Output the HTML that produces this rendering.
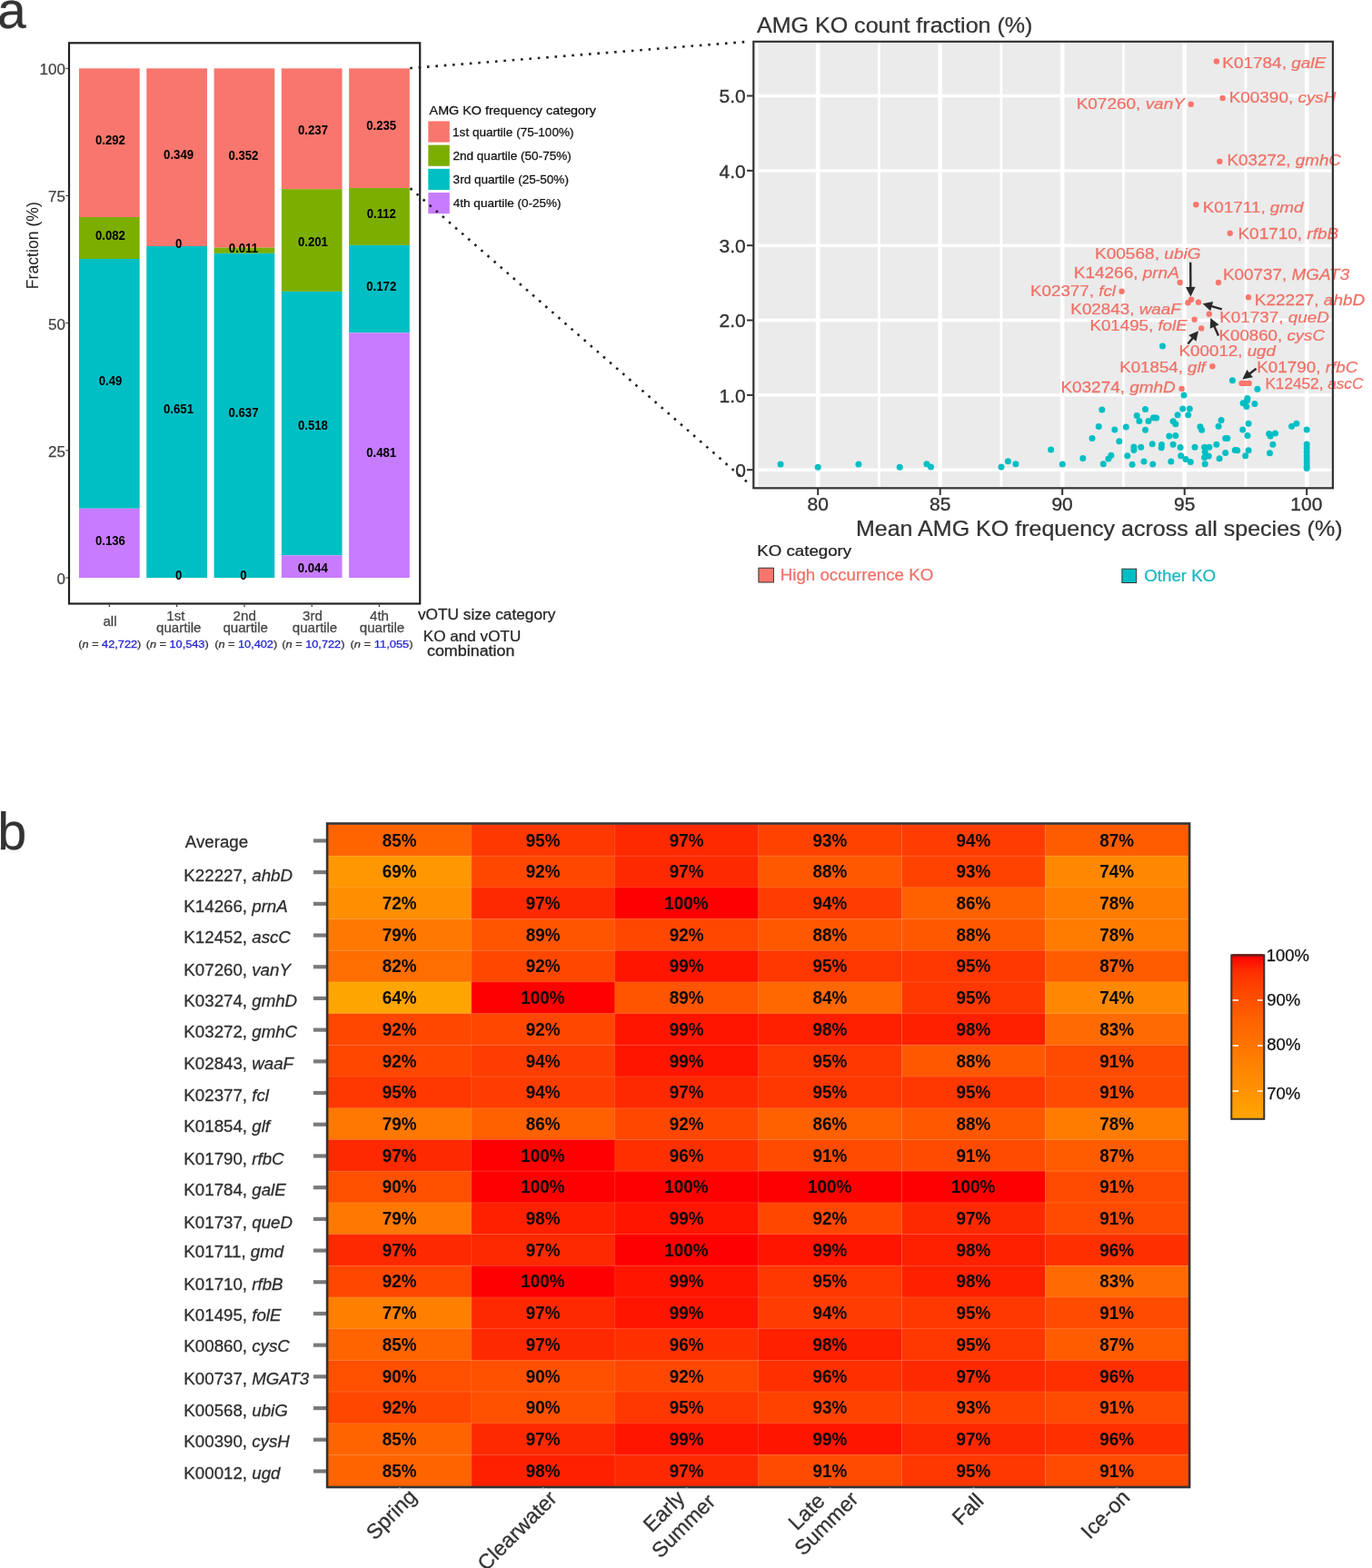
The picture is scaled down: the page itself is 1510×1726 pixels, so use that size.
<!DOCTYPE html>
<html><head><meta charset="utf-8"><title>Figure</title><style>html,body{margin:0;padding:0;background:#fff;overflow:hidden;}svg{display:block;}</style></head><body>
<svg width="1510" height="1726" viewBox="0 0 1510 1726" font-family="'Liberation Sans', Arial, Helvetica, sans-serif">
<rect x="0" y="0" width="1510" height="1726" fill="#fff"/>
<text transform="translate(-3.02,31.20)" font-size="57" fill="#333" stroke="#333" stroke-width="0.25">a</text>
<text transform="translate(-2.74,935.20)" font-size="57.5" fill="#333" stroke="#333" stroke-width="0.25">b</text>
<rect x="87.00" y="75.30" width="66.7" height="163.72" fill="#F8766D"/>
<rect x="87.00" y="239.02" width="66.7" height="45.98" fill="#7CAE00"/>
<rect x="87.00" y="285.00" width="66.7" height="274.74" fill="#00BFC4"/>
<rect x="87.00" y="559.74" width="66.7" height="76.26" fill="#C77CFF"/>
<rect x="161.28" y="75.30" width="66.7" height="195.68" fill="#F8766D"/>
<rect x="161.28" y="270.98" width="66.7" height="365.02" fill="#00BFC4"/>
<rect x="235.56" y="75.30" width="66.7" height="197.37" fill="#F8766D"/>
<rect x="235.56" y="272.67" width="66.7" height="6.17" fill="#7CAE00"/>
<rect x="235.56" y="278.83" width="66.7" height="357.17" fill="#00BFC4"/>
<rect x="309.84" y="75.30" width="66.7" height="132.89" fill="#F8766D"/>
<rect x="309.84" y="208.19" width="66.7" height="112.70" fill="#7CAE00"/>
<rect x="309.84" y="320.89" width="66.7" height="290.44" fill="#00BFC4"/>
<rect x="309.84" y="611.33" width="66.7" height="24.67" fill="#C77CFF"/>
<rect x="384.12" y="75.30" width="66.7" height="131.76" fill="#F8766D"/>
<rect x="384.12" y="207.06" width="66.7" height="62.80" fill="#7CAE00"/>
<rect x="384.12" y="269.86" width="66.7" height="96.44" fill="#00BFC4"/>
<rect x="384.12" y="366.30" width="66.7" height="269.70" fill="#C77CFF"/>
<text transform="translate(104.99,159.11) scale(0.9550,1)" font-size="13.8" font-weight="bold" fill="#000">0.292</text>
<text transform="translate(104.99,263.96) scale(0.9550,1)" font-size="13.8" font-weight="bold" fill="#000">0.082</text>
<text transform="translate(108.65,424.32) scale(0.9550,1)" font-size="13.8" font-weight="bold" fill="#000">0.49</text>
<text transform="translate(104.98,599.82) scale(0.9550,1)" font-size="13.8" font-weight="bold" fill="#000">0.136</text>
<text transform="translate(180.08,175.09) scale(0.9550,1)" font-size="13.8" font-weight="bold" fill="#000">0.349</text>
<text transform="translate(192.94,272.93) scale(0.9550,1)" font-size="13.8" font-weight="bold" fill="#000">0</text>
<text transform="translate(180.03,455.44) scale(0.9550,1)" font-size="13.8" font-weight="bold" fill="#000">0.651</text>
<text transform="translate(192.94,637.95) scale(0.9550,1)" font-size="13.8" font-weight="bold" fill="#000">0</text>
<text transform="translate(251.49,175.93) scale(0.9550,1)" font-size="13.8" font-weight="bold" fill="#000">0.352</text>
<text transform="translate(251.81,277.70) scale(0.9550,1)" font-size="13.8" font-weight="bold" fill="#000">0.011</text>
<text transform="translate(251.53,459.37) scale(0.9550,1)" font-size="13.8" font-weight="bold" fill="#000">0.637</text>
<text transform="translate(264.34,637.95) scale(0.9550,1)" font-size="13.8" font-weight="bold" fill="#000">0</text>
<text transform="translate(328.03,148.39) scale(0.9550,1)" font-size="13.8" font-weight="bold" fill="#000">0.237</text>
<text transform="translate(327.93,271.19) scale(0.9550,1)" font-size="13.8" font-weight="bold" fill="#000">0.201</text>
<text transform="translate(327.94,472.76) scale(0.9550,1)" font-size="13.8" font-weight="bold" fill="#000">0.518</text>
<text transform="translate(327.78,630.31) scale(0.9550,1)" font-size="13.8" font-weight="bold" fill="#000">0.044</text>
<text transform="translate(403.23,143.13) scale(0.9550,1)" font-size="13.8" font-weight="bold" fill="#000">0.235</text>
<text transform="translate(403.67,240.41) scale(0.9550,1)" font-size="13.8" font-weight="bold" fill="#000">0.112</text>
<text transform="translate(403.29,320.03) scale(0.9550,1)" font-size="13.8" font-weight="bold" fill="#000">0.172</text>
<text transform="translate(403.23,503.10) scale(0.9550,1)" font-size="13.8" font-weight="bold" fill="#000">0.481</text>
<rect x="76" y="47.3" width="386.2" height="617.2" fill="none" stroke="#222" stroke-width="2.2"/>
<line x1="72.3" y1="75.30" x2="75" y2="75.30" stroke="#333" stroke-width="1"/>
<text transform="translate(43.59,82.20)" font-size="17" fill="#444" stroke="#444" stroke-width="0.25">100</text>
<line x1="72.3" y1="215.47" x2="75" y2="215.47" stroke="#333" stroke-width="1"/>
<text transform="translate(53.11,222.37)" font-size="17" fill="#444" stroke="#444" stroke-width="0.25">75</text>
<line x1="72.3" y1="355.65" x2="75" y2="355.65" stroke="#333" stroke-width="1"/>
<text transform="translate(53.07,362.55)" font-size="17" fill="#444" stroke="#444" stroke-width="0.25">50</text>
<line x1="72.3" y1="495.82" x2="75" y2="495.82" stroke="#333" stroke-width="1"/>
<text transform="translate(53.11,502.72)" font-size="17" fill="#444" stroke="#444" stroke-width="0.25">25</text>
<line x1="72.3" y1="636.00" x2="75" y2="636.00" stroke="#333" stroke-width="1"/>
<text transform="translate(62.50,642.90)" font-size="17" fill="#444" stroke="#444" stroke-width="0.25">0</text>
<text transform="translate(41.9,318.2) rotate(-90)" font-size="17.65" fill="#222">Fraction (%)</text>
<line x1="120.35" y1="665.5" x2="120.35" y2="668" stroke="#333" stroke-width="1.2"/>
<line x1="194.63" y1="665.5" x2="194.63" y2="668" stroke="#333" stroke-width="1.2"/>
<line x1="268.91" y1="665.5" x2="268.91" y2="668" stroke="#333" stroke-width="1.2"/>
<line x1="343.19" y1="665.5" x2="343.19" y2="668" stroke="#333" stroke-width="1.2"/>
<line x1="417.47" y1="665.5" x2="417.47" y2="668" stroke="#333" stroke-width="1.2"/>
<text transform="translate(113.45,688.60) scale(1.0400,1)" font-size="14.5" fill="#444" stroke="#444" stroke-width="0.25">all</text>
<text transform="translate(183.34,682.50) scale(1.0400,1)" font-size="14.5" fill="#444" stroke="#444" stroke-width="0.25">1st</text>
<text transform="translate(172.07,696.30) scale(1.0400,1)" font-size="14.5" fill="#444" stroke="#444" stroke-width="0.25">quartile</text>
<text transform="translate(256.62,682.50) scale(1.0400,1)" font-size="14.5" fill="#444" stroke="#444" stroke-width="0.25">2nd</text>
<text transform="translate(245.47,696.30) scale(1.0400,1)" font-size="14.5" fill="#444" stroke="#444" stroke-width="0.25">quartile</text>
<text transform="translate(333.09,682.50) scale(1.0400,1)" font-size="14.5" fill="#444" stroke="#444" stroke-width="0.25">3rd</text>
<text transform="translate(321.77,696.30) scale(1.0400,1)" font-size="14.5" fill="#444" stroke="#444" stroke-width="0.25">quartile</text>
<text transform="translate(407.02,682.50) scale(1.0400,1)" font-size="14.5" fill="#444" stroke="#444" stroke-width="0.25">4th</text>
<text transform="translate(395.77,696.30) scale(1.0400,1)" font-size="14.5" fill="#444" stroke="#444" stroke-width="0.25">quartile</text>
<text transform="translate(86.25,713.20) scale(1.1276,1)" font-size="11.3" fill="#333" stroke="#333" stroke-width="0.25">(<tspan font-style="italic">n</tspan> = <tspan fill="#1c1cd0" stroke="#1c1cd0">42,722</tspan>)</text>
<text transform="translate(160.65,713.20) scale(1.1276,1)" font-size="11.3" fill="#333" stroke="#333" stroke-width="0.25">(<tspan font-style="italic">n</tspan> = <tspan fill="#1c1cd0" stroke="#1c1cd0">10,543</tspan>)</text>
<text transform="translate(236.15,713.20) scale(1.1276,1)" font-size="11.3" fill="#333" stroke="#333" stroke-width="0.25">(<tspan font-style="italic">n</tspan> = <tspan fill="#1c1cd0" stroke="#1c1cd0">10,402</tspan>)</text>
<text transform="translate(310.35,713.20) scale(1.1276,1)" font-size="11.3" fill="#333" stroke="#333" stroke-width="0.25">(<tspan font-style="italic">n</tspan> = <tspan fill="#1c1cd0" stroke="#1c1cd0">10,722</tspan>)</text>
<text transform="translate(385.54,713.20) scale(1.1438,1)" font-size="11.3" fill="#333" stroke="#333" stroke-width="0.25">(<tspan font-style="italic">n</tspan> = <tspan fill="#1c1cd0" stroke="#1c1cd0">11,055</tspan>)</text>
<text transform="translate(459.96,681.50) scale(1.0457,1)" font-size="16.5" fill="#262626" stroke="#262626" stroke-width="0.25">vOTU size category</text>
<text transform="translate(465.79,705.80) scale(1.0838,1)" font-size="15.8" fill="#262626" stroke="#262626" stroke-width="0.25">KO and vOTU</text>
<text transform="translate(469.94,721.50) scale(1.1341,1)" font-size="15.8" fill="#262626" stroke="#262626" stroke-width="0.25">combination</text>
<text transform="translate(472.56,126.20) scale(1.0886,1)" font-size="13.2" fill="#111" stroke="#111" stroke-width="0.25">AMG KO frequency category</text>
<rect x="471.3" y="133.40" width="23.5" height="23.2" fill="#F8766D"/>
<text transform="translate(498.08,149.60) scale(1.0283,1)" font-size="13.2" fill="#111" stroke="#111" stroke-width="0.25">1st quartile (75-100%)</text>
<rect x="471.3" y="159.60" width="23.5" height="23.2" fill="#7CAE00"/>
<text transform="translate(498.42,175.80) scale(1.0279,1)" font-size="13.2" fill="#111" stroke="#111" stroke-width="0.25">2nd quartile (50-75%)</text>
<rect x="471.3" y="185.80" width="23.5" height="23.2" fill="#00BFC4"/>
<text transform="translate(498.59,202.00) scale(1.0278,1)" font-size="13.2" fill="#111" stroke="#111" stroke-width="0.25">3rd quartile (25-50%)</text>
<rect x="471.3" y="212.00" width="23.5" height="23.2" fill="#C77CFF"/>
<text transform="translate(498.80,228.20) scale(1.0249,1)" font-size="13.2" fill="#111" stroke="#111" stroke-width="0.25">4th quartile (0-25%)</text>
<line x1="451.2" y1="75.06" x2="822.5" y2="45.9" stroke="#222" stroke-width="2.6" stroke-dasharray="2.6 6.8"/>
<line x1="451.5" y1="207.2" x2="824" y2="532.1" stroke="#222" stroke-width="2.6" stroke-dasharray="2.6 6.8"/>
<rect x="830.4" y="46.9" width="635.40" height="489.30" fill="#EBEBEB"/>
<clipPath id="pc"><rect x="830.4" y="46.9" width="635.40" height="489.30"/></clipPath>
<g clip-path="url(#pc)">
<line x1="832.95" y1="46.9" x2="832.95" y2="536.2" stroke="#fff" stroke-width="2.8"/>
<line x1="967.45" y1="46.9" x2="967.45" y2="536.2" stroke="#fff" stroke-width="2.8"/>
<line x1="1101.95" y1="46.9" x2="1101.95" y2="536.2" stroke="#fff" stroke-width="2.8"/>
<line x1="1236.45" y1="46.9" x2="1236.45" y2="536.2" stroke="#fff" stroke-width="2.8"/>
<line x1="1370.95" y1="46.9" x2="1370.95" y2="536.2" stroke="#fff" stroke-width="2.8"/>
<line x1="900.20" y1="46.9" x2="900.20" y2="536.2" stroke="#fff" stroke-width="4.6"/>
<line x1="1034.70" y1="46.9" x2="1034.70" y2="536.2" stroke="#fff" stroke-width="4.6"/>
<line x1="1169.20" y1="46.9" x2="1169.20" y2="536.2" stroke="#fff" stroke-width="4.6"/>
<line x1="1303.70" y1="46.9" x2="1303.70" y2="536.2" stroke="#fff" stroke-width="4.6"/>
<line x1="1438.20" y1="46.9" x2="1438.20" y2="536.2" stroke="#fff" stroke-width="4.6"/>
<line x1="830.4" y1="517.20" x2="1465.8" y2="517.20" stroke="#fff" stroke-width="3.4"/>
<line x1="830.4" y1="434.86" x2="1465.8" y2="434.86" stroke="#fff" stroke-width="3.4"/>
<line x1="830.4" y1="352.52" x2="1465.8" y2="352.52" stroke="#fff" stroke-width="3.4"/>
<line x1="830.4" y1="270.18" x2="1465.8" y2="270.18" stroke="#fff" stroke-width="3.4"/>
<line x1="830.4" y1="187.84" x2="1465.8" y2="187.84" stroke="#fff" stroke-width="3.4"/>
<line x1="830.4" y1="105.50" x2="1465.8" y2="105.50" stroke="#fff" stroke-width="3.4"/>
</g>
<circle cx="859.1" cy="510.9" r="3.5" fill="#00BFC4"/>
<circle cx="900.2" cy="514.2" r="3.5" fill="#00BFC4"/>
<circle cx="944.9" cy="510.9" r="3.5" fill="#00BFC4"/>
<circle cx="990.2" cy="514.2" r="3.5" fill="#00BFC4"/>
<circle cx="1019.9" cy="510.7" r="3.5" fill="#00BFC4"/>
<circle cx="1024.5" cy="514" r="3.5" fill="#00BFC4"/>
<circle cx="1102" cy="514" r="3.5" fill="#00BFC4"/>
<circle cx="1109.4" cy="507.7" r="3.5" fill="#00BFC4"/>
<circle cx="1117.9" cy="510.7" r="3.5" fill="#00BFC4"/>
<circle cx="1156.6" cy="495.1" r="3.5" fill="#00BFC4"/>
<circle cx="1169.3" cy="511" r="3.5" fill="#00BFC4"/>
<circle cx="1191.8" cy="504.6" r="3.5" fill="#00BFC4"/>
<circle cx="1212.8" cy="450.9" r="3.5" fill="#00BFC4"/>
<circle cx="1209.2" cy="469.6" r="3.5" fill="#00BFC4"/>
<circle cx="1226.8" cy="472.9" r="3.5" fill="#00BFC4"/>
<circle cx="1239.3" cy="469.9" r="3.5" fill="#00BFC4"/>
<circle cx="1202" cy="482.4" r="3.5" fill="#00BFC4"/>
<circle cx="1231.8" cy="485.7" r="3.5" fill="#00BFC4"/>
<circle cx="1260.5" cy="450.6" r="3.5" fill="#00BFC4"/>
<circle cx="1251.2" cy="457.4" r="3.5" fill="#00BFC4"/>
<circle cx="1253.9" cy="463.4" r="3.5" fill="#00BFC4"/>
<circle cx="1264" cy="463.4" r="3.5" fill="#00BFC4"/>
<circle cx="1260.5" cy="473.2" r="3.5" fill="#00BFC4"/>
<circle cx="1269.4" cy="459.8" r="3.5" fill="#00BFC4"/>
<circle cx="1247.9" cy="492" r="3.5" fill="#00BFC4"/>
<circle cx="1247.9" cy="495.6" r="3.5" fill="#00BFC4"/>
<circle cx="1255.7" cy="492.3" r="3.5" fill="#00BFC4"/>
<circle cx="1268.2" cy="488.7" r="3.5" fill="#00BFC4"/>
<circle cx="1240.8" cy="501.8" r="3.5" fill="#00BFC4"/>
<circle cx="1222.9" cy="501.2" r="3.5" fill="#00BFC4"/>
<circle cx="1219.9" cy="505.1" r="3.5" fill="#00BFC4"/>
<circle cx="1214.3" cy="510.8" r="3.5" fill="#00BFC4"/>
<circle cx="1246.1" cy="511.3" r="3.5" fill="#00BFC4"/>
<circle cx="1259" cy="508.1" r="3.5" fill="#00BFC4"/>
<circle cx="1268.8" cy="511" r="3.5" fill="#00BFC4"/>
<circle cx="1303" cy="434.9" r="3.5" fill="#00BFC4"/>
<circle cx="1301.7" cy="450.1" r="3.5" fill="#00BFC4"/>
<circle cx="1309.3" cy="450.1" r="3.5" fill="#00BFC4"/>
<circle cx="1296.1" cy="456.8" r="3.5" fill="#00BFC4"/>
<circle cx="1307.7" cy="456.8" r="3.5" fill="#00BFC4"/>
<circle cx="1272.6" cy="460.1" r="3.5" fill="#00BFC4"/>
<circle cx="1291.1" cy="463.7" r="3.5" fill="#00BFC4"/>
<circle cx="1293.8" cy="466.7" r="3.5" fill="#00BFC4"/>
<circle cx="1344.1" cy="462.4" r="3.5" fill="#00BFC4"/>
<circle cx="1341.1" cy="469.3" r="3.5" fill="#00BFC4"/>
<circle cx="1320.9" cy="469.7" r="3.5" fill="#00BFC4"/>
<circle cx="1322.6" cy="473.3" r="3.5" fill="#00BFC4"/>
<circle cx="1286.8" cy="479.9" r="3.5" fill="#00BFC4"/>
<circle cx="1293.8" cy="479.6" r="3.5" fill="#00BFC4"/>
<circle cx="1348.7" cy="482.6" r="3.5" fill="#00BFC4"/>
<circle cx="1278.5" cy="489.5" r="3.5" fill="#00BFC4"/>
<circle cx="1278.2" cy="492.8" r="3.5" fill="#00BFC4"/>
<circle cx="1291.1" cy="489.2" r="3.5" fill="#00BFC4"/>
<circle cx="1299.1" cy="492.5" r="3.5" fill="#00BFC4"/>
<circle cx="1315" cy="492.2" r="3.5" fill="#00BFC4"/>
<circle cx="1325.6" cy="492.2" r="3.5" fill="#00BFC4"/>
<circle cx="1330.9" cy="492.2" r="3.5" fill="#00BFC4"/>
<circle cx="1338.8" cy="489.2" r="3.5" fill="#00BFC4"/>
<circle cx="1326.2" cy="497.5" r="3.5" fill="#00BFC4"/>
<circle cx="1330.2" cy="502.1" r="3.5" fill="#00BFC4"/>
<circle cx="1325.6" cy="503.4" r="3.5" fill="#00BFC4"/>
<circle cx="1348.7" cy="498.5" r="3.5" fill="#00BFC4"/>
<circle cx="1342.1" cy="504.8" r="3.5" fill="#00BFC4"/>
<circle cx="1359.3" cy="495.5" r="3.5" fill="#00BFC4"/>
<circle cx="1299.7" cy="501.8" r="3.5" fill="#00BFC4"/>
<circle cx="1305" cy="505.4" r="3.5" fill="#00BFC4"/>
<circle cx="1310.3" cy="508.4" r="3.5" fill="#00BFC4"/>
<circle cx="1288.8" cy="508.1" r="3.5" fill="#00BFC4"/>
<circle cx="1326.2" cy="510.7" r="3.5" fill="#00BFC4"/>
<circle cx="1356.4" cy="418.8" r="3.5" fill="#00BFC4"/>
<circle cx="1383.9" cy="428.3" r="3.5" fill="#00BFC4"/>
<circle cx="1368.1" cy="443.7" r="3.5" fill="#00BFC4"/>
<circle cx="1372.6" cy="440.7" r="3.5" fill="#00BFC4"/>
<circle cx="1371.9" cy="447.5" r="3.5" fill="#00BFC4"/>
<circle cx="1380.9" cy="444.5" r="3.5" fill="#00BFC4"/>
<circle cx="1374.1" cy="466.3" r="3.5" fill="#00BFC4"/>
<circle cx="1367.7" cy="473.1" r="3.5" fill="#00BFC4"/>
<circle cx="1373" cy="479.5" r="3.5" fill="#00BFC4"/>
<circle cx="1350.8" cy="482.5" r="3.5" fill="#00BFC4"/>
<circle cx="1396.7" cy="477.6" r="3.5" fill="#00BFC4"/>
<circle cx="1403.5" cy="476.9" r="3.5" fill="#00BFC4"/>
<circle cx="1398.2" cy="479.9" r="3.5" fill="#00BFC4"/>
<circle cx="1400.9" cy="489.3" r="3.5" fill="#00BFC4"/>
<circle cx="1397.5" cy="498.7" r="3.5" fill="#00BFC4"/>
<circle cx="1421.6" cy="469.3" r="3.5" fill="#00BFC4"/>
<circle cx="1426.9" cy="466.3" r="3.5" fill="#00BFC4"/>
<circle cx="1438.2" cy="473.1" r="3.5" fill="#00BFC4"/>
<circle cx="1361.7" cy="495.7" r="3.5" fill="#00BFC4"/>
<circle cx="1374.1" cy="495.7" r="3.5" fill="#00BFC4"/>
<circle cx="1370.7" cy="501.7" r="3.5" fill="#00BFC4"/>
<circle cx="1279.5" cy="380.9" r="3.5" fill="#00BFC4"/>
<circle cx="1372.9" cy="438.5" r="3.5" fill="#00BFC4"/>
<circle cx="1438.2" cy="489" r="3.5" fill="#00BFC4"/>
<circle cx="1438.2" cy="493" r="3.5" fill="#00BFC4"/>
<circle cx="1438.2" cy="497" r="3.5" fill="#00BFC4"/>
<circle cx="1438.2" cy="501" r="3.5" fill="#00BFC4"/>
<circle cx="1438.2" cy="505" r="3.5" fill="#00BFC4"/>
<circle cx="1438.2" cy="509" r="3.5" fill="#00BFC4"/>
<circle cx="1438.2" cy="513" r="3.5" fill="#00BFC4"/>
<circle cx="1438.2" cy="515.5" r="3.5" fill="#00BFC4"/>
<circle cx="1338.9" cy="67.5" r="3.2" fill="#F8766D"/>
<circle cx="1345.6" cy="108" r="3.2" fill="#F8766D"/>
<circle cx="1310.7" cy="114.8" r="3.2" fill="#F8766D"/>
<circle cx="1342.3" cy="177.8" r="3.2" fill="#F8766D"/>
<circle cx="1316.3" cy="225.3" r="3.2" fill="#F8766D"/>
<circle cx="1353.7" cy="256.8" r="3.2" fill="#F8766D"/>
<circle cx="1298.7" cy="311" r="3.2" fill="#F8766D"/>
<circle cx="1341" cy="311" r="3.2" fill="#F8766D"/>
<circle cx="1234.6" cy="320.7" r="3.2" fill="#F8766D"/>
<circle cx="1374" cy="327.2" r="3.2" fill="#F8766D"/>
<circle cx="1307.4" cy="333.3" r="3.2" fill="#F8766D"/>
<circle cx="1311.1" cy="329.8" r="3.2" fill="#F8766D"/>
<circle cx="1319" cy="332.7" r="3.2" fill="#F8766D"/>
<circle cx="1330.8" cy="345.8" r="3.2" fill="#F8766D"/>
<circle cx="1314.6" cy="351.8" r="3.2" fill="#F8766D"/>
<circle cx="1322.2" cy="361.4" r="3.2" fill="#F8766D"/>
<circle cx="1334.4" cy="403.3" r="3.2" fill="#F8766D"/>
<circle cx="1300.6" cy="427.9" r="3.2" fill="#F8766D"/>
<circle cx="1366.6" cy="421.9" r="3.2" fill="#F8766D"/>
<circle cx="1370.3" cy="421.9" r="3.2" fill="#F8766D"/>
<circle cx="1374.7" cy="421.9" r="3.2" fill="#F8766D"/>
<text transform="translate(1345.23,74.90) scale(1.1035,1)" font-size="17.2" fill="#F07167" stroke="#F07167" stroke-width="0.25">K01784, <tspan font-style="italic">galE</tspan></text>
<text transform="translate(1352.64,112.50) scale(1.1017,1)" font-size="17.2" fill="#F07167" stroke="#F07167" stroke-width="0.25">K00390, <tspan font-style="italic">cysH</tspan></text>
<text transform="translate(1184.63,119.90) scale(1.1043,1)" font-size="17.2" fill="#F07167" stroke="#F07167" stroke-width="0.25">K07260, <tspan font-style="italic">vanY</tspan></text>
<text transform="translate(1350.45,182.30) scale(1.0949,1)" font-size="17.2" fill="#F07167" stroke="#F07167" stroke-width="0.25">K03272, <tspan font-style="italic">gmhC</tspan></text>
<text transform="translate(1323.74,233.60) scale(1.0973,1)" font-size="17.2" fill="#F07167" stroke="#F07167" stroke-width="0.25">K01711, <tspan font-style="italic">gmd</tspan></text>
<text transform="translate(1362.44,263.30) scale(1.1028,1)" font-size="17.2" fill="#F07167" stroke="#F07167" stroke-width="0.25">K01710, <tspan font-style="italic">rfbB</tspan></text>
<text transform="translate(1204.92,284.70) scale(1.1104,1)" font-size="17.2" fill="#F07167" stroke="#F07167" stroke-width="0.25">K00568, <tspan font-style="italic">ubiG</tspan></text>
<text transform="translate(1181.73,306.40) scale(1.1045,1)" font-size="17.2" fill="#F07167" stroke="#F07167" stroke-width="0.25">K14266, <tspan font-style="italic">prnA</tspan></text>
<text transform="translate(1346.04,308.40) scale(1.0969,1)" font-size="17.2" fill="#F07167" stroke="#F07167" stroke-width="0.25">K00737, <tspan font-style="italic">MGAT3</tspan></text>
<text transform="translate(1133.95,326.00) scale(1.0934,1)" font-size="17.2" fill="#F07167" stroke="#F07167" stroke-width="0.25">K02377, <tspan font-style="italic">fcl</tspan></text>
<text transform="translate(1380.83,335.50) scale(1.1045,1)" font-size="17.2" fill="#F07167" stroke="#F07167" stroke-width="0.25">K22227, <tspan font-style="italic">ahbD</tspan></text>
<text transform="translate(1178.35,346.10) scale(1.0952,1)" font-size="17.2" fill="#F07167" stroke="#F07167" stroke-width="0.25">K02843, <tspan font-style="italic">waaF</tspan></text>
<text transform="translate(1342.14,355.30) scale(1.0980,1)" font-size="17.2" fill="#F07167" stroke="#F07167" stroke-width="0.25">K01737, <tspan font-style="italic">queD</tspan></text>
<text transform="translate(1199.45,364.40) scale(1.0898,1)" font-size="17.2" fill="#F07167" stroke="#F07167" stroke-width="0.25">K01495, <tspan font-style="italic">folE</tspan></text>
<text transform="translate(1341.56,374.80) scale(1.0876,1)" font-size="17.2" fill="#F07167" stroke="#F07167" stroke-width="0.25">K00860, <tspan font-style="italic">cysC</tspan></text>
<text transform="translate(1297.55,392.10) scale(1.0913,1)" font-size="17.2" fill="#F07167" stroke="#F07167" stroke-width="0.25">K00012, <tspan font-style="italic">ugd</tspan></text>
<text transform="translate(1232.26,409.80) scale(1.0870,1)" font-size="17.2" fill="#F07167" stroke="#F07167" stroke-width="0.25">K01854, <tspan font-style="italic">glf</tspan></text>
<text transform="translate(1383.24,409.90) scale(1.0968,1)" font-size="17.2" fill="#F07167" stroke="#F07167" stroke-width="0.25">K01790, <tspan font-style="italic">rfbC</tspan></text>
<text transform="translate(1167.44,432.10) scale(1.1012,1)" font-size="17.2" fill="#F07167" stroke="#F07167" stroke-width="0.25">K03274, <tspan font-style="italic">gmhD</tspan></text>
<text transform="translate(1392.38,427.80)" font-size="17.2" fill="#F07167" stroke="#F07167" stroke-width="0.25">K12452, <tspan font-style="italic">ascC</tspan></text>
<line x1="1310.20" y1="288.70" x2="1310.35" y2="316.90" stroke="#2a2a2a" stroke-width="2.4"/>
<polygon points="1310.40,326.40 1305.04,315.93 1315.64,315.87" fill="#2a2a2a"/>
<line x1="1344.80" y1="340.30" x2="1332.73" y2="336.83" stroke="#2a2a2a" stroke-width="2.4"/>
<polygon points="1323.60,334.20 1335.16,332.01 1332.23,342.20" fill="#2a2a2a"/>
<line x1="1341.00" y1="369.50" x2="1336.19" y2="358.77" stroke="#2a2a2a" stroke-width="2.4"/>
<polygon points="1332.30,350.10 1341.43,357.51 1331.76,361.85" fill="#2a2a2a"/>
<line x1="1307.40" y1="378.50" x2="1312.99" y2="371.66" stroke="#2a2a2a" stroke-width="2.4"/>
<polygon points="1319.00,364.30 1316.46,375.78 1308.25,369.08" fill="#2a2a2a"/>
<line x1="1382.60" y1="405.70" x2="1374.88" y2="411.74" stroke="#2a2a2a" stroke-width="2.4"/>
<polygon points="1367.40,417.60 1372.40,406.95 1378.93,415.30" fill="#2a2a2a"/>
<rect x="829.30" y="45.80" width="637.60" height="491.50" fill="none" stroke="#333" stroke-width="2.2"/>
<line x1="822" y1="105.50" x2="829" y2="105.50" stroke="#333" stroke-width="2"/>
<text transform="translate(791.60,113.20)" font-size="21" fill="#333" stroke="#333" stroke-width="0.35">5.0</text>
<line x1="822" y1="187.84" x2="829" y2="187.84" stroke="#333" stroke-width="2"/>
<text transform="translate(791.60,195.54)" font-size="21" fill="#333" stroke="#333" stroke-width="0.35">4.0</text>
<line x1="822" y1="270.18" x2="829" y2="270.18" stroke="#333" stroke-width="2"/>
<text transform="translate(791.60,277.88)" font-size="21" fill="#333" stroke="#333" stroke-width="0.35">3.0</text>
<line x1="822" y1="352.52" x2="829" y2="352.52" stroke="#333" stroke-width="2"/>
<text transform="translate(791.60,360.22)" font-size="21" fill="#333" stroke="#333" stroke-width="0.35">2.0</text>
<line x1="822" y1="434.86" x2="829" y2="434.86" stroke="#333" stroke-width="2"/>
<text transform="translate(791.60,442.56)" font-size="21" fill="#333" stroke="#333" stroke-width="0.35">1.0</text>
<line x1="822" y1="517.20" x2="829" y2="517.20" stroke="#333" stroke-width="2"/>
<text transform="translate(809.13,524.90)" font-size="21" fill="#333" stroke="#333" stroke-width="0.35">0</text>
<line x1="900.20" y1="537" x2="900.20" y2="545" stroke="#333" stroke-width="2"/>
<text transform="translate(888.49,561.80)" font-size="21" fill="#333" stroke="#333" stroke-width="0.35">80</text>
<line x1="1034.70" y1="537" x2="1034.70" y2="545" stroke="#333" stroke-width="2"/>
<text transform="translate(1023.02,561.80)" font-size="21" fill="#333" stroke="#333" stroke-width="0.35">85</text>
<line x1="1169.20" y1="537" x2="1169.20" y2="545" stroke="#333" stroke-width="2"/>
<text transform="translate(1157.44,561.80)" font-size="21" fill="#333" stroke="#333" stroke-width="0.35">90</text>
<line x1="1303.70" y1="537" x2="1303.70" y2="545" stroke="#333" stroke-width="2"/>
<text transform="translate(1291.97,561.80)" font-size="21" fill="#333" stroke="#333" stroke-width="0.35">95</text>
<line x1="1438.20" y1="537" x2="1438.20" y2="545" stroke="#333" stroke-width="2"/>
<text transform="translate(1420.30,561.80)" font-size="21" fill="#333" stroke="#333" stroke-width="0.35">100</text>
<text transform="translate(832.94,35.80) scale(1.0754,1)" font-size="23.3" fill="#333" stroke="#333" stroke-width="0.25">AMG KO count fraction (%)</text>
<text transform="translate(941.93,590.20) scale(1.0750,1)" font-size="23.3" fill="#333" stroke="#333" stroke-width="0.25">Mean AMG KO frequency across all species (%)</text>
<text transform="translate(833.26,611.60) scale(1.0816,1)" font-size="17.3" fill="#222" stroke="#222" stroke-width="0.25">KO category</text>
<rect x="834.9" y="625.2" width="16.5" height="15.8" fill="#F8766D" stroke="#333" stroke-width="1"/>
<text transform="translate(858.75,639.10) scale(1.0707,1)" font-size="17.5" fill="#F07167" stroke="#F07167" stroke-width="0.25">High occurrence KO</text>
<rect x="1234.9" y="626.2" width="15.8" height="15.3" fill="#00BFC4" stroke="#333" stroke-width="1"/>
<text transform="translate(1259.31,639.60) scale(1.0674,1)" font-size="17.5" fill="#19B8C0" stroke="#19B8C0" stroke-width="0.25">Other KO</text>
<rect x="360.90" y="907.40" width="158.20" height="35.00" fill="#FF6400"/>
<rect x="518.80" y="907.40" width="158.20" height="35.00" fill="#FF3700"/>
<rect x="676.70" y="907.40" width="158.20" height="35.00" fill="#FF2900"/>
<rect x="834.60" y="907.40" width="158.20" height="35.00" fill="#FF4200"/>
<rect x="992.50" y="907.40" width="158.20" height="35.00" fill="#FF3D00"/>
<rect x="1150.40" y="907.40" width="158.20" height="35.00" fill="#FF5C00"/>
<rect x="360.90" y="942.10" width="158.20" height="35.00" fill="#FF9700"/>
<rect x="518.80" y="942.10" width="158.20" height="35.00" fill="#FF4700"/>
<rect x="676.70" y="942.10" width="158.20" height="35.00" fill="#FF2900"/>
<rect x="834.60" y="942.10" width="158.20" height="35.00" fill="#FF5800"/>
<rect x="992.50" y="942.10" width="158.20" height="35.00" fill="#FF4200"/>
<rect x="1150.40" y="942.10" width="158.20" height="35.00" fill="#FF8800"/>
<rect x="360.90" y="976.80" width="158.20" height="35.00" fill="#FF8E00"/>
<rect x="518.80" y="976.80" width="158.20" height="35.00" fill="#FF2900"/>
<rect x="676.70" y="976.80" width="158.20" height="35.00" fill="#FF0000"/>
<rect x="834.60" y="976.80" width="158.20" height="35.00" fill="#FF3D00"/>
<rect x="992.50" y="976.80" width="158.20" height="35.00" fill="#FF6000"/>
<rect x="1150.40" y="976.80" width="158.20" height="35.00" fill="#FF7C00"/>
<rect x="360.90" y="1011.50" width="158.20" height="35.00" fill="#FF7800"/>
<rect x="518.80" y="1011.50" width="158.20" height="35.00" fill="#FF5400"/>
<rect x="676.70" y="1011.50" width="158.20" height="35.00" fill="#FF4700"/>
<rect x="834.60" y="1011.50" width="158.20" height="35.00" fill="#FF5800"/>
<rect x="992.50" y="1011.50" width="158.20" height="35.00" fill="#FF5800"/>
<rect x="1150.40" y="1011.50" width="158.20" height="35.00" fill="#FF7C00"/>
<rect x="360.90" y="1046.20" width="158.20" height="35.00" fill="#FF6E00"/>
<rect x="518.80" y="1046.20" width="158.20" height="35.00" fill="#FF4700"/>
<rect x="676.70" y="1046.20" width="158.20" height="35.00" fill="#FF1500"/>
<rect x="834.60" y="1046.20" width="158.20" height="35.00" fill="#FF3700"/>
<rect x="992.50" y="1046.20" width="158.20" height="35.00" fill="#FF3700"/>
<rect x="1150.40" y="1046.20" width="158.20" height="35.00" fill="#FF5C00"/>
<rect x="360.90" y="1080.90" width="158.20" height="35.00" fill="#FFA500"/>
<rect x="518.80" y="1080.90" width="158.20" height="35.00" fill="#FF0000"/>
<rect x="676.70" y="1080.90" width="158.20" height="35.00" fill="#FF5400"/>
<rect x="834.60" y="1080.90" width="158.20" height="35.00" fill="#FF6700"/>
<rect x="992.50" y="1080.90" width="158.20" height="35.00" fill="#FF3700"/>
<rect x="1150.40" y="1080.90" width="158.20" height="35.00" fill="#FF8800"/>
<rect x="360.90" y="1115.60" width="158.20" height="35.00" fill="#FF4700"/>
<rect x="518.80" y="1115.60" width="158.20" height="35.00" fill="#FF4700"/>
<rect x="676.70" y="1115.60" width="158.20" height="35.00" fill="#FF1500"/>
<rect x="834.60" y="1115.60" width="158.20" height="35.00" fill="#FF2000"/>
<rect x="992.50" y="1115.60" width="158.20" height="35.00" fill="#FF2000"/>
<rect x="1150.40" y="1115.60" width="158.20" height="35.00" fill="#FF6B00"/>
<rect x="360.90" y="1150.30" width="158.20" height="35.00" fill="#FF4700"/>
<rect x="518.80" y="1150.30" width="158.20" height="35.00" fill="#FF3D00"/>
<rect x="676.70" y="1150.30" width="158.20" height="35.00" fill="#FF1500"/>
<rect x="834.60" y="1150.30" width="158.20" height="35.00" fill="#FF3700"/>
<rect x="992.50" y="1150.30" width="158.20" height="35.00" fill="#FF5800"/>
<rect x="1150.40" y="1150.30" width="158.20" height="35.00" fill="#FF4B00"/>
<rect x="360.90" y="1185.00" width="158.20" height="35.00" fill="#FF3700"/>
<rect x="518.80" y="1185.00" width="158.20" height="35.00" fill="#FF3D00"/>
<rect x="676.70" y="1185.00" width="158.20" height="35.00" fill="#FF2900"/>
<rect x="834.60" y="1185.00" width="158.20" height="35.00" fill="#FF3700"/>
<rect x="992.50" y="1185.00" width="158.20" height="35.00" fill="#FF3700"/>
<rect x="1150.40" y="1185.00" width="158.20" height="35.00" fill="#FF4B00"/>
<rect x="360.90" y="1219.70" width="158.20" height="35.00" fill="#FF7800"/>
<rect x="518.80" y="1219.70" width="158.20" height="35.00" fill="#FF6000"/>
<rect x="676.70" y="1219.70" width="158.20" height="35.00" fill="#FF4700"/>
<rect x="834.60" y="1219.70" width="158.20" height="35.00" fill="#FF6000"/>
<rect x="992.50" y="1219.70" width="158.20" height="35.00" fill="#FF5800"/>
<rect x="1150.40" y="1219.70" width="158.20" height="35.00" fill="#FF7C00"/>
<rect x="360.90" y="1254.40" width="158.20" height="35.00" fill="#FF2900"/>
<rect x="518.80" y="1254.40" width="158.20" height="35.00" fill="#FF0000"/>
<rect x="676.70" y="1254.40" width="158.20" height="35.00" fill="#FF3000"/>
<rect x="834.60" y="1254.40" width="158.20" height="35.00" fill="#FF4B00"/>
<rect x="992.50" y="1254.40" width="158.20" height="35.00" fill="#FF4B00"/>
<rect x="1150.40" y="1254.40" width="158.20" height="35.00" fill="#FF5C00"/>
<rect x="360.90" y="1289.10" width="158.20" height="35.00" fill="#FF5000"/>
<rect x="518.80" y="1289.10" width="158.20" height="35.00" fill="#FF0000"/>
<rect x="676.70" y="1289.10" width="158.20" height="35.00" fill="#FF0000"/>
<rect x="834.60" y="1289.10" width="158.20" height="35.00" fill="#FF0000"/>
<rect x="992.50" y="1289.10" width="158.20" height="35.00" fill="#FF0000"/>
<rect x="1150.40" y="1289.10" width="158.20" height="35.00" fill="#FF4B00"/>
<rect x="360.90" y="1323.80" width="158.20" height="35.00" fill="#FF7800"/>
<rect x="518.80" y="1323.80" width="158.20" height="35.00" fill="#FF2000"/>
<rect x="676.70" y="1323.80" width="158.20" height="35.00" fill="#FF1500"/>
<rect x="834.60" y="1323.80" width="158.20" height="35.00" fill="#FF4700"/>
<rect x="992.50" y="1323.80" width="158.20" height="35.00" fill="#FF2900"/>
<rect x="1150.40" y="1323.80" width="158.20" height="35.00" fill="#FF4B00"/>
<rect x="360.90" y="1358.50" width="158.20" height="35.00" fill="#FF2900"/>
<rect x="518.80" y="1358.50" width="158.20" height="35.00" fill="#FF2900"/>
<rect x="676.70" y="1358.50" width="158.20" height="35.00" fill="#FF0000"/>
<rect x="834.60" y="1358.50" width="158.20" height="35.00" fill="#FF1500"/>
<rect x="992.50" y="1358.50" width="158.20" height="35.00" fill="#FF2000"/>
<rect x="1150.40" y="1358.50" width="158.20" height="35.00" fill="#FF3000"/>
<rect x="360.90" y="1393.20" width="158.20" height="35.00" fill="#FF4700"/>
<rect x="518.80" y="1393.20" width="158.20" height="35.00" fill="#FF0000"/>
<rect x="676.70" y="1393.20" width="158.20" height="35.00" fill="#FF1500"/>
<rect x="834.60" y="1393.20" width="158.20" height="35.00" fill="#FF3700"/>
<rect x="992.50" y="1393.20" width="158.20" height="35.00" fill="#FF2000"/>
<rect x="1150.40" y="1393.20" width="158.20" height="35.00" fill="#FF6B00"/>
<rect x="360.90" y="1427.90" width="158.20" height="35.00" fill="#FF7F00"/>
<rect x="518.80" y="1427.90" width="158.20" height="35.00" fill="#FF2900"/>
<rect x="676.70" y="1427.90" width="158.20" height="35.00" fill="#FF1500"/>
<rect x="834.60" y="1427.90" width="158.20" height="35.00" fill="#FF3D00"/>
<rect x="992.50" y="1427.90" width="158.20" height="35.00" fill="#FF3700"/>
<rect x="1150.40" y="1427.90" width="158.20" height="35.00" fill="#FF4B00"/>
<rect x="360.90" y="1462.60" width="158.20" height="35.00" fill="#FF6400"/>
<rect x="518.80" y="1462.60" width="158.20" height="35.00" fill="#FF2900"/>
<rect x="676.70" y="1462.60" width="158.20" height="35.00" fill="#FF3000"/>
<rect x="834.60" y="1462.60" width="158.20" height="35.00" fill="#FF2000"/>
<rect x="992.50" y="1462.60" width="158.20" height="35.00" fill="#FF3700"/>
<rect x="1150.40" y="1462.60" width="158.20" height="35.00" fill="#FF5C00"/>
<rect x="360.90" y="1497.30" width="158.20" height="35.00" fill="#FF5000"/>
<rect x="518.80" y="1497.30" width="158.20" height="35.00" fill="#FF5000"/>
<rect x="676.70" y="1497.30" width="158.20" height="35.00" fill="#FF4700"/>
<rect x="834.60" y="1497.30" width="158.20" height="35.00" fill="#FF3000"/>
<rect x="992.50" y="1497.30" width="158.20" height="35.00" fill="#FF2900"/>
<rect x="1150.40" y="1497.30" width="158.20" height="35.00" fill="#FF3000"/>
<rect x="360.90" y="1532.00" width="158.20" height="35.00" fill="#FF4700"/>
<rect x="518.80" y="1532.00" width="158.20" height="35.00" fill="#FF5000"/>
<rect x="676.70" y="1532.00" width="158.20" height="35.00" fill="#FF3700"/>
<rect x="834.60" y="1532.00" width="158.20" height="35.00" fill="#FF4200"/>
<rect x="992.50" y="1532.00" width="158.20" height="35.00" fill="#FF4200"/>
<rect x="1150.40" y="1532.00" width="158.20" height="35.00" fill="#FF4B00"/>
<rect x="360.90" y="1566.70" width="158.20" height="35.00" fill="#FF6400"/>
<rect x="518.80" y="1566.70" width="158.20" height="35.00" fill="#FF2900"/>
<rect x="676.70" y="1566.70" width="158.20" height="35.00" fill="#FF1500"/>
<rect x="834.60" y="1566.70" width="158.20" height="35.00" fill="#FF1500"/>
<rect x="992.50" y="1566.70" width="158.20" height="35.00" fill="#FF2900"/>
<rect x="1150.40" y="1566.70" width="158.20" height="35.00" fill="#FF3000"/>
<rect x="360.90" y="1601.40" width="158.20" height="35.00" fill="#FF6400"/>
<rect x="518.80" y="1601.40" width="158.20" height="35.00" fill="#FF2000"/>
<rect x="676.70" y="1601.40" width="158.20" height="35.00" fill="#FF2900"/>
<rect x="834.60" y="1601.40" width="158.20" height="35.00" fill="#FF4B00"/>
<rect x="992.50" y="1601.40" width="158.20" height="35.00" fill="#FF3700"/>
<rect x="1150.40" y="1601.40" width="158.20" height="35.00" fill="#FF4B00"/>
<line x1="360.90" y1="942.10" x2="1308.30" y2="942.10" stroke="#fff" stroke-opacity="0.13" stroke-width="1"/>
<line x1="360.90" y1="976.80" x2="1308.30" y2="976.80" stroke="#fff" stroke-opacity="0.13" stroke-width="1"/>
<line x1="360.90" y1="1011.50" x2="1308.30" y2="1011.50" stroke="#fff" stroke-opacity="0.13" stroke-width="1"/>
<line x1="360.90" y1="1046.20" x2="1308.30" y2="1046.20" stroke="#fff" stroke-opacity="0.13" stroke-width="1"/>
<line x1="360.90" y1="1080.90" x2="1308.30" y2="1080.90" stroke="#fff" stroke-opacity="0.13" stroke-width="1"/>
<line x1="360.90" y1="1115.60" x2="1308.30" y2="1115.60" stroke="#fff" stroke-opacity="0.13" stroke-width="1"/>
<line x1="360.90" y1="1150.30" x2="1308.30" y2="1150.30" stroke="#fff" stroke-opacity="0.13" stroke-width="1"/>
<line x1="360.90" y1="1185.00" x2="1308.30" y2="1185.00" stroke="#fff" stroke-opacity="0.13" stroke-width="1"/>
<line x1="360.90" y1="1219.70" x2="1308.30" y2="1219.70" stroke="#fff" stroke-opacity="0.13" stroke-width="1"/>
<line x1="360.90" y1="1254.40" x2="1308.30" y2="1254.40" stroke="#fff" stroke-opacity="0.13" stroke-width="1"/>
<line x1="360.90" y1="1289.10" x2="1308.30" y2="1289.10" stroke="#fff" stroke-opacity="0.13" stroke-width="1"/>
<line x1="360.90" y1="1323.80" x2="1308.30" y2="1323.80" stroke="#fff" stroke-opacity="0.13" stroke-width="1"/>
<line x1="360.90" y1="1358.50" x2="1308.30" y2="1358.50" stroke="#fff" stroke-opacity="0.13" stroke-width="1"/>
<line x1="360.90" y1="1393.20" x2="1308.30" y2="1393.20" stroke="#fff" stroke-opacity="0.13" stroke-width="1"/>
<line x1="360.90" y1="1427.90" x2="1308.30" y2="1427.90" stroke="#fff" stroke-opacity="0.13" stroke-width="1"/>
<line x1="360.90" y1="1462.60" x2="1308.30" y2="1462.60" stroke="#fff" stroke-opacity="0.13" stroke-width="1"/>
<line x1="360.90" y1="1497.30" x2="1308.30" y2="1497.30" stroke="#fff" stroke-opacity="0.13" stroke-width="1"/>
<line x1="360.90" y1="1532.00" x2="1308.30" y2="1532.00" stroke="#fff" stroke-opacity="0.13" stroke-width="1"/>
<line x1="360.90" y1="1566.70" x2="1308.30" y2="1566.70" stroke="#fff" stroke-opacity="0.13" stroke-width="1"/>
<line x1="360.90" y1="1601.40" x2="1308.30" y2="1601.40" stroke="#fff" stroke-opacity="0.13" stroke-width="1"/>
<line x1="518.80" y1="907.40" x2="518.80" y2="1636.10" stroke="#fff" stroke-opacity="0.13" stroke-width="1"/>
<line x1="676.70" y1="907.40" x2="676.70" y2="1636.10" stroke="#fff" stroke-opacity="0.13" stroke-width="1"/>
<line x1="834.60" y1="907.40" x2="834.60" y2="1636.10" stroke="#fff" stroke-opacity="0.13" stroke-width="1"/>
<line x1="992.50" y1="907.40" x2="992.50" y2="1636.10" stroke="#fff" stroke-opacity="0.13" stroke-width="1"/>
<line x1="1150.40" y1="907.40" x2="1150.40" y2="1636.10" stroke="#fff" stroke-opacity="0.13" stroke-width="1"/>
<text transform="translate(420.86,931.60) scale(0.9700,1)" font-size="19.5" font-weight="bold" fill="#0a0a0a">85%</text>
<text transform="translate(578.74,931.60) scale(0.9700,1)" font-size="19.5" font-weight="bold" fill="#0a0a0a">95%</text>
<text transform="translate(736.64,931.60) scale(0.9700,1)" font-size="19.5" font-weight="bold" fill="#0a0a0a">97%</text>
<text transform="translate(894.54,931.60) scale(0.9700,1)" font-size="19.5" font-weight="bold" fill="#0a0a0a">93%</text>
<text transform="translate(1052.44,931.60) scale(0.9700,1)" font-size="19.5" font-weight="bold" fill="#0a0a0a">94%</text>
<text transform="translate(1210.36,931.60) scale(0.9700,1)" font-size="19.5" font-weight="bold" fill="#0a0a0a">87%</text>
<text transform="translate(203.85,932.70) scale(0.9850,1)" font-size="19.0" fill="#2e2e2e" stroke="#2e2e2e" stroke-width="0.3">Average</text>
<line x1="344.9" y1="925.45" x2="359.6" y2="925.45" stroke="#7a7a7a" stroke-width="4.2"/>
<text transform="translate(420.82,966.30) scale(0.9700,1)" font-size="19.5" font-weight="bold" fill="#0a0a0a">69%</text>
<text transform="translate(578.74,966.30) scale(0.9700,1)" font-size="19.5" font-weight="bold" fill="#0a0a0a">92%</text>
<text transform="translate(736.64,966.30) scale(0.9700,1)" font-size="19.5" font-weight="bold" fill="#0a0a0a">97%</text>
<text transform="translate(894.56,966.30) scale(0.9700,1)" font-size="19.5" font-weight="bold" fill="#0a0a0a">88%</text>
<text transform="translate(1052.44,966.30) scale(0.9700,1)" font-size="19.5" font-weight="bold" fill="#0a0a0a">93%</text>
<text transform="translate(1210.27,966.30) scale(0.9700,1)" font-size="19.5" font-weight="bold" fill="#0a0a0a">74%</text>
<text transform="translate(202.36,969.60) scale(0.9850,1)" font-size="19.0" fill="#2e2e2e" stroke="#2e2e2e" stroke-width="0.3">K22227, <tspan font-style="italic">ahbD</tspan></text>
<line x1="344.9" y1="960.15" x2="359.6" y2="960.15" stroke="#7a7a7a" stroke-width="4.2"/>
<text transform="translate(420.77,1001.00) scale(0.9700,1)" font-size="19.5" font-weight="bold" fill="#0a0a0a">72%</text>
<text transform="translate(578.74,1001.00) scale(0.9700,1)" font-size="19.5" font-weight="bold" fill="#0a0a0a">97%</text>
<text transform="translate(731.13,1001.00) scale(0.9700,1)" font-size="19.5" font-weight="bold" fill="#0a0a0a">100%</text>
<text transform="translate(894.54,1001.00) scale(0.9700,1)" font-size="19.5" font-weight="bold" fill="#0a0a0a">94%</text>
<text transform="translate(1052.46,1001.00) scale(0.9700,1)" font-size="19.5" font-weight="bold" fill="#0a0a0a">86%</text>
<text transform="translate(1210.27,1001.00) scale(0.9700,1)" font-size="19.5" font-weight="bold" fill="#0a0a0a">78%</text>
<text transform="translate(202.36,1003.50) scale(0.9850,1)" font-size="19.0" fill="#2e2e2e" stroke="#2e2e2e" stroke-width="0.3">K14266, <tspan font-style="italic">prnA</tspan></text>
<line x1="344.9" y1="994.85" x2="359.6" y2="994.85" stroke="#7a7a7a" stroke-width="4.2"/>
<text transform="translate(420.77,1035.70) scale(0.9700,1)" font-size="19.5" font-weight="bold" fill="#0a0a0a">79%</text>
<text transform="translate(578.76,1035.70) scale(0.9700,1)" font-size="19.5" font-weight="bold" fill="#0a0a0a">89%</text>
<text transform="translate(736.64,1035.70) scale(0.9700,1)" font-size="19.5" font-weight="bold" fill="#0a0a0a">92%</text>
<text transform="translate(894.56,1035.70) scale(0.9700,1)" font-size="19.5" font-weight="bold" fill="#0a0a0a">88%</text>
<text transform="translate(1052.46,1035.70) scale(0.9700,1)" font-size="19.5" font-weight="bold" fill="#0a0a0a">88%</text>
<text transform="translate(1210.27,1035.70) scale(0.9700,1)" font-size="19.5" font-weight="bold" fill="#0a0a0a">78%</text>
<text transform="translate(202.36,1037.60) scale(0.9850,1)" font-size="19.0" fill="#2e2e2e" stroke="#2e2e2e" stroke-width="0.3">K12452, <tspan font-style="italic">ascC</tspan></text>
<line x1="344.9" y1="1029.55" x2="359.6" y2="1029.55" stroke="#7a7a7a" stroke-width="4.2"/>
<text transform="translate(420.86,1070.40) scale(0.9700,1)" font-size="19.5" font-weight="bold" fill="#0a0a0a">82%</text>
<text transform="translate(578.74,1070.40) scale(0.9700,1)" font-size="19.5" font-weight="bold" fill="#0a0a0a">92%</text>
<text transform="translate(736.64,1070.40) scale(0.9700,1)" font-size="19.5" font-weight="bold" fill="#0a0a0a">99%</text>
<text transform="translate(894.54,1070.40) scale(0.9700,1)" font-size="19.5" font-weight="bold" fill="#0a0a0a">95%</text>
<text transform="translate(1052.44,1070.40) scale(0.9700,1)" font-size="19.5" font-weight="bold" fill="#0a0a0a">95%</text>
<text transform="translate(1210.36,1070.40) scale(0.9700,1)" font-size="19.5" font-weight="bold" fill="#0a0a0a">87%</text>
<text transform="translate(202.36,1073.80) scale(0.9850,1)" font-size="19.0" fill="#2e2e2e" stroke="#2e2e2e" stroke-width="0.3">K07260, <tspan font-style="italic">vanY</tspan></text>
<line x1="344.9" y1="1064.25" x2="359.6" y2="1064.25" stroke="#7a7a7a" stroke-width="4.2"/>
<text transform="translate(420.82,1105.10) scale(0.9700,1)" font-size="19.5" font-weight="bold" fill="#0a0a0a">64%</text>
<text transform="translate(573.23,1105.10) scale(0.9700,1)" font-size="19.5" font-weight="bold" fill="#0a0a0a">100%</text>
<text transform="translate(736.66,1105.10) scale(0.9700,1)" font-size="19.5" font-weight="bold" fill="#0a0a0a">89%</text>
<text transform="translate(894.56,1105.10) scale(0.9700,1)" font-size="19.5" font-weight="bold" fill="#0a0a0a">84%</text>
<text transform="translate(1052.44,1105.10) scale(0.9700,1)" font-size="19.5" font-weight="bold" fill="#0a0a0a">95%</text>
<text transform="translate(1210.27,1105.10) scale(0.9700,1)" font-size="19.5" font-weight="bold" fill="#0a0a0a">74%</text>
<text transform="translate(202.36,1107.60) scale(0.9850,1)" font-size="19.0" fill="#2e2e2e" stroke="#2e2e2e" stroke-width="0.3">K03274, <tspan font-style="italic">gmhD</tspan></text>
<line x1="344.9" y1="1098.95" x2="359.6" y2="1098.95" stroke="#7a7a7a" stroke-width="4.2"/>
<text transform="translate(420.84,1139.80) scale(0.9700,1)" font-size="19.5" font-weight="bold" fill="#0a0a0a">92%</text>
<text transform="translate(578.74,1139.80) scale(0.9700,1)" font-size="19.5" font-weight="bold" fill="#0a0a0a">92%</text>
<text transform="translate(736.64,1139.80) scale(0.9700,1)" font-size="19.5" font-weight="bold" fill="#0a0a0a">99%</text>
<text transform="translate(894.54,1139.80) scale(0.9700,1)" font-size="19.5" font-weight="bold" fill="#0a0a0a">98%</text>
<text transform="translate(1052.44,1139.80) scale(0.9700,1)" font-size="19.5" font-weight="bold" fill="#0a0a0a">98%</text>
<text transform="translate(1210.36,1139.80) scale(0.9700,1)" font-size="19.5" font-weight="bold" fill="#0a0a0a">83%</text>
<text transform="translate(202.36,1142.00) scale(0.9850,1)" font-size="19.0" fill="#2e2e2e" stroke="#2e2e2e" stroke-width="0.3">K03272, <tspan font-style="italic">gmhC</tspan></text>
<line x1="344.9" y1="1133.65" x2="359.6" y2="1133.65" stroke="#7a7a7a" stroke-width="4.2"/>
<text transform="translate(420.84,1174.50) scale(0.9700,1)" font-size="19.5" font-weight="bold" fill="#0a0a0a">92%</text>
<text transform="translate(578.74,1174.50) scale(0.9700,1)" font-size="19.5" font-weight="bold" fill="#0a0a0a">94%</text>
<text transform="translate(736.64,1174.50) scale(0.9700,1)" font-size="19.5" font-weight="bold" fill="#0a0a0a">99%</text>
<text transform="translate(894.54,1174.50) scale(0.9700,1)" font-size="19.5" font-weight="bold" fill="#0a0a0a">95%</text>
<text transform="translate(1052.46,1174.50) scale(0.9700,1)" font-size="19.5" font-weight="bold" fill="#0a0a0a">88%</text>
<text transform="translate(1210.34,1174.50) scale(0.9700,1)" font-size="19.5" font-weight="bold" fill="#0a0a0a">91%</text>
<text transform="translate(202.36,1177.10) scale(0.9850,1)" font-size="19.0" fill="#2e2e2e" stroke="#2e2e2e" stroke-width="0.3">K02843, <tspan font-style="italic">waaF</tspan></text>
<line x1="344.9" y1="1168.35" x2="359.6" y2="1168.35" stroke="#7a7a7a" stroke-width="4.2"/>
<text transform="translate(420.84,1209.20) scale(0.9700,1)" font-size="19.5" font-weight="bold" fill="#0a0a0a">95%</text>
<text transform="translate(578.74,1209.20) scale(0.9700,1)" font-size="19.5" font-weight="bold" fill="#0a0a0a">94%</text>
<text transform="translate(736.64,1209.20) scale(0.9700,1)" font-size="19.5" font-weight="bold" fill="#0a0a0a">97%</text>
<text transform="translate(894.54,1209.20) scale(0.9700,1)" font-size="19.5" font-weight="bold" fill="#0a0a0a">95%</text>
<text transform="translate(1052.44,1209.20) scale(0.9700,1)" font-size="19.5" font-weight="bold" fill="#0a0a0a">95%</text>
<text transform="translate(1210.34,1209.20) scale(0.9700,1)" font-size="19.5" font-weight="bold" fill="#0a0a0a">91%</text>
<text transform="translate(202.36,1211.50) scale(0.9850,1)" font-size="19.0" fill="#2e2e2e" stroke="#2e2e2e" stroke-width="0.3">K02377, <tspan font-style="italic">fcl</tspan></text>
<line x1="344.9" y1="1203.05" x2="359.6" y2="1203.05" stroke="#7a7a7a" stroke-width="4.2"/>
<text transform="translate(420.77,1243.90) scale(0.9700,1)" font-size="19.5" font-weight="bold" fill="#0a0a0a">79%</text>
<text transform="translate(578.76,1243.90) scale(0.9700,1)" font-size="19.5" font-weight="bold" fill="#0a0a0a">86%</text>
<text transform="translate(736.64,1243.90) scale(0.9700,1)" font-size="19.5" font-weight="bold" fill="#0a0a0a">92%</text>
<text transform="translate(894.56,1243.90) scale(0.9700,1)" font-size="19.5" font-weight="bold" fill="#0a0a0a">86%</text>
<text transform="translate(1052.46,1243.90) scale(0.9700,1)" font-size="19.5" font-weight="bold" fill="#0a0a0a">88%</text>
<text transform="translate(1210.27,1243.90) scale(0.9700,1)" font-size="19.5" font-weight="bold" fill="#0a0a0a">78%</text>
<text transform="translate(202.36,1245.90) scale(0.9850,1)" font-size="19.0" fill="#2e2e2e" stroke="#2e2e2e" stroke-width="0.3">K01854, <tspan font-style="italic">glf</tspan></text>
<line x1="344.9" y1="1237.75" x2="359.6" y2="1237.75" stroke="#7a7a7a" stroke-width="4.2"/>
<text transform="translate(420.84,1278.60) scale(0.9700,1)" font-size="19.5" font-weight="bold" fill="#0a0a0a">97%</text>
<text transform="translate(573.23,1278.60) scale(0.9700,1)" font-size="19.5" font-weight="bold" fill="#0a0a0a">100%</text>
<text transform="translate(736.64,1278.60) scale(0.9700,1)" font-size="19.5" font-weight="bold" fill="#0a0a0a">96%</text>
<text transform="translate(894.54,1278.60) scale(0.9700,1)" font-size="19.5" font-weight="bold" fill="#0a0a0a">91%</text>
<text transform="translate(1052.44,1278.60) scale(0.9700,1)" font-size="19.5" font-weight="bold" fill="#0a0a0a">91%</text>
<text transform="translate(1210.36,1278.60) scale(0.9700,1)" font-size="19.5" font-weight="bold" fill="#0a0a0a">87%</text>
<text transform="translate(202.36,1281.70) scale(0.9850,1)" font-size="19.0" fill="#2e2e2e" stroke="#2e2e2e" stroke-width="0.3">K01790, <tspan font-style="italic">rfbC</tspan></text>
<line x1="344.9" y1="1272.45" x2="359.6" y2="1272.45" stroke="#7a7a7a" stroke-width="4.2"/>
<text transform="translate(420.84,1313.30) scale(0.9700,1)" font-size="19.5" font-weight="bold" fill="#0a0a0a">90%</text>
<text transform="translate(573.23,1313.30) scale(0.9700,1)" font-size="19.5" font-weight="bold" fill="#0a0a0a">100%</text>
<text transform="translate(731.13,1313.30) scale(0.9700,1)" font-size="19.5" font-weight="bold" fill="#0a0a0a">100%</text>
<text transform="translate(889.03,1313.30) scale(0.9700,1)" font-size="19.5" font-weight="bold" fill="#0a0a0a">100%</text>
<text transform="translate(1046.93,1313.30) scale(0.9700,1)" font-size="19.5" font-weight="bold" fill="#0a0a0a">100%</text>
<text transform="translate(1210.34,1313.30) scale(0.9700,1)" font-size="19.5" font-weight="bold" fill="#0a0a0a">91%</text>
<text transform="translate(202.36,1315.80) scale(0.9850,1)" font-size="19.0" fill="#2e2e2e" stroke="#2e2e2e" stroke-width="0.3">K01784, <tspan font-style="italic">galE</tspan></text>
<line x1="344.9" y1="1307.15" x2="359.6" y2="1307.15" stroke="#7a7a7a" stroke-width="4.2"/>
<text transform="translate(420.77,1348.00) scale(0.9700,1)" font-size="19.5" font-weight="bold" fill="#0a0a0a">79%</text>
<text transform="translate(578.74,1348.00) scale(0.9700,1)" font-size="19.5" font-weight="bold" fill="#0a0a0a">98%</text>
<text transform="translate(736.64,1348.00) scale(0.9700,1)" font-size="19.5" font-weight="bold" fill="#0a0a0a">99%</text>
<text transform="translate(894.54,1348.00) scale(0.9700,1)" font-size="19.5" font-weight="bold" fill="#0a0a0a">92%</text>
<text transform="translate(1052.44,1348.00) scale(0.9700,1)" font-size="19.5" font-weight="bold" fill="#0a0a0a">97%</text>
<text transform="translate(1210.34,1348.00) scale(0.9700,1)" font-size="19.5" font-weight="bold" fill="#0a0a0a">91%</text>
<text transform="translate(202.36,1351.90) scale(0.9850,1)" font-size="19.0" fill="#2e2e2e" stroke="#2e2e2e" stroke-width="0.3">K01737, <tspan font-style="italic">queD</tspan></text>
<line x1="344.9" y1="1341.85" x2="359.6" y2="1341.85" stroke="#7a7a7a" stroke-width="4.2"/>
<text transform="translate(420.84,1382.70) scale(0.9700,1)" font-size="19.5" font-weight="bold" fill="#0a0a0a">97%</text>
<text transform="translate(578.74,1382.70) scale(0.9700,1)" font-size="19.5" font-weight="bold" fill="#0a0a0a">97%</text>
<text transform="translate(731.13,1382.70) scale(0.9700,1)" font-size="19.5" font-weight="bold" fill="#0a0a0a">100%</text>
<text transform="translate(894.54,1382.70) scale(0.9700,1)" font-size="19.5" font-weight="bold" fill="#0a0a0a">99%</text>
<text transform="translate(1052.44,1382.70) scale(0.9700,1)" font-size="19.5" font-weight="bold" fill="#0a0a0a">98%</text>
<text transform="translate(1210.34,1382.70) scale(0.9700,1)" font-size="19.5" font-weight="bold" fill="#0a0a0a">96%</text>
<text transform="translate(202.36,1383.90) scale(0.9850,1)" font-size="19.0" fill="#2e2e2e" stroke="#2e2e2e" stroke-width="0.3">K01711, <tspan font-style="italic">gmd</tspan></text>
<line x1="344.9" y1="1376.55" x2="359.6" y2="1376.55" stroke="#7a7a7a" stroke-width="4.2"/>
<text transform="translate(420.84,1417.40) scale(0.9700,1)" font-size="19.5" font-weight="bold" fill="#0a0a0a">92%</text>
<text transform="translate(573.23,1417.40) scale(0.9700,1)" font-size="19.5" font-weight="bold" fill="#0a0a0a">100%</text>
<text transform="translate(736.64,1417.40) scale(0.9700,1)" font-size="19.5" font-weight="bold" fill="#0a0a0a">99%</text>
<text transform="translate(894.54,1417.40) scale(0.9700,1)" font-size="19.5" font-weight="bold" fill="#0a0a0a">95%</text>
<text transform="translate(1052.44,1417.40) scale(0.9700,1)" font-size="19.5" font-weight="bold" fill="#0a0a0a">98%</text>
<text transform="translate(1210.36,1417.40) scale(0.9700,1)" font-size="19.5" font-weight="bold" fill="#0a0a0a">83%</text>
<text transform="translate(202.36,1419.90) scale(0.9850,1)" font-size="19.0" fill="#2e2e2e" stroke="#2e2e2e" stroke-width="0.3">K01710, <tspan font-style="italic">rfbB</tspan></text>
<line x1="344.9" y1="1411.25" x2="359.6" y2="1411.25" stroke="#7a7a7a" stroke-width="4.2"/>
<text transform="translate(420.77,1452.10) scale(0.9700,1)" font-size="19.5" font-weight="bold" fill="#0a0a0a">77%</text>
<text transform="translate(578.74,1452.10) scale(0.9700,1)" font-size="19.5" font-weight="bold" fill="#0a0a0a">97%</text>
<text transform="translate(736.64,1452.10) scale(0.9700,1)" font-size="19.5" font-weight="bold" fill="#0a0a0a">99%</text>
<text transform="translate(894.54,1452.10) scale(0.9700,1)" font-size="19.5" font-weight="bold" fill="#0a0a0a">94%</text>
<text transform="translate(1052.44,1452.10) scale(0.9700,1)" font-size="19.5" font-weight="bold" fill="#0a0a0a">95%</text>
<text transform="translate(1210.34,1452.10) scale(0.9700,1)" font-size="19.5" font-weight="bold" fill="#0a0a0a">91%</text>
<text transform="translate(202.36,1454.00) scale(0.9850,1)" font-size="19.0" fill="#2e2e2e" stroke="#2e2e2e" stroke-width="0.3">K01495, <tspan font-style="italic">folE</tspan></text>
<line x1="344.9" y1="1445.95" x2="359.6" y2="1445.95" stroke="#7a7a7a" stroke-width="4.2"/>
<text transform="translate(420.86,1486.80) scale(0.9700,1)" font-size="19.5" font-weight="bold" fill="#0a0a0a">85%</text>
<text transform="translate(578.74,1486.80) scale(0.9700,1)" font-size="19.5" font-weight="bold" fill="#0a0a0a">97%</text>
<text transform="translate(736.64,1486.80) scale(0.9700,1)" font-size="19.5" font-weight="bold" fill="#0a0a0a">96%</text>
<text transform="translate(894.54,1486.80) scale(0.9700,1)" font-size="19.5" font-weight="bold" fill="#0a0a0a">98%</text>
<text transform="translate(1052.44,1486.80) scale(0.9700,1)" font-size="19.5" font-weight="bold" fill="#0a0a0a">95%</text>
<text transform="translate(1210.36,1486.80) scale(0.9700,1)" font-size="19.5" font-weight="bold" fill="#0a0a0a">87%</text>
<text transform="translate(202.36,1488.00) scale(0.9850,1)" font-size="19.0" fill="#2e2e2e" stroke="#2e2e2e" stroke-width="0.3">K00860, <tspan font-style="italic">cysC</tspan></text>
<line x1="344.9" y1="1480.65" x2="359.6" y2="1480.65" stroke="#7a7a7a" stroke-width="4.2"/>
<text transform="translate(420.84,1521.50) scale(0.9700,1)" font-size="19.5" font-weight="bold" fill="#0a0a0a">90%</text>
<text transform="translate(578.74,1521.50) scale(0.9700,1)" font-size="19.5" font-weight="bold" fill="#0a0a0a">90%</text>
<text transform="translate(736.64,1521.50) scale(0.9700,1)" font-size="19.5" font-weight="bold" fill="#0a0a0a">92%</text>
<text transform="translate(894.54,1521.50) scale(0.9700,1)" font-size="19.5" font-weight="bold" fill="#0a0a0a">96%</text>
<text transform="translate(1052.44,1521.50) scale(0.9700,1)" font-size="19.5" font-weight="bold" fill="#0a0a0a">97%</text>
<text transform="translate(1210.34,1521.50) scale(0.9700,1)" font-size="19.5" font-weight="bold" fill="#0a0a0a">96%</text>
<text transform="translate(202.36,1523.80) scale(0.9850,1)" font-size="19.0" fill="#2e2e2e" stroke="#2e2e2e" stroke-width="0.3">K00737, <tspan font-style="italic">MGAT3</tspan></text>
<line x1="344.9" y1="1515.35" x2="359.6" y2="1515.35" stroke="#7a7a7a" stroke-width="4.2"/>
<text transform="translate(420.84,1556.20) scale(0.9700,1)" font-size="19.5" font-weight="bold" fill="#0a0a0a">92%</text>
<text transform="translate(578.74,1556.20) scale(0.9700,1)" font-size="19.5" font-weight="bold" fill="#0a0a0a">90%</text>
<text transform="translate(736.64,1556.20) scale(0.9700,1)" font-size="19.5" font-weight="bold" fill="#0a0a0a">95%</text>
<text transform="translate(894.54,1556.20) scale(0.9700,1)" font-size="19.5" font-weight="bold" fill="#0a0a0a">93%</text>
<text transform="translate(1052.44,1556.20) scale(0.9700,1)" font-size="19.5" font-weight="bold" fill="#0a0a0a">93%</text>
<text transform="translate(1210.34,1556.20) scale(0.9700,1)" font-size="19.5" font-weight="bold" fill="#0a0a0a">91%</text>
<text transform="translate(202.36,1558.70) scale(0.9850,1)" font-size="19.0" fill="#2e2e2e" stroke="#2e2e2e" stroke-width="0.3">K00568, <tspan font-style="italic">ubiG</tspan></text>
<line x1="344.9" y1="1550.05" x2="359.6" y2="1550.05" stroke="#7a7a7a" stroke-width="4.2"/>
<text transform="translate(420.86,1590.90) scale(0.9700,1)" font-size="19.5" font-weight="bold" fill="#0a0a0a">85%</text>
<text transform="translate(578.74,1590.90) scale(0.9700,1)" font-size="19.5" font-weight="bold" fill="#0a0a0a">97%</text>
<text transform="translate(736.64,1590.90) scale(0.9700,1)" font-size="19.5" font-weight="bold" fill="#0a0a0a">99%</text>
<text transform="translate(894.54,1590.90) scale(0.9700,1)" font-size="19.5" font-weight="bold" fill="#0a0a0a">99%</text>
<text transform="translate(1052.44,1590.90) scale(0.9700,1)" font-size="19.5" font-weight="bold" fill="#0a0a0a">97%</text>
<text transform="translate(1210.34,1590.90) scale(0.9700,1)" font-size="19.5" font-weight="bold" fill="#0a0a0a">96%</text>
<text transform="translate(202.36,1592.80) scale(0.9850,1)" font-size="19.0" fill="#2e2e2e" stroke="#2e2e2e" stroke-width="0.3">K00390, <tspan font-style="italic">cysH</tspan></text>
<line x1="344.9" y1="1584.75" x2="359.6" y2="1584.75" stroke="#7a7a7a" stroke-width="4.2"/>
<text transform="translate(420.86,1625.60) scale(0.9700,1)" font-size="19.5" font-weight="bold" fill="#0a0a0a">85%</text>
<text transform="translate(578.74,1625.60) scale(0.9700,1)" font-size="19.5" font-weight="bold" fill="#0a0a0a">98%</text>
<text transform="translate(736.64,1625.60) scale(0.9700,1)" font-size="19.5" font-weight="bold" fill="#0a0a0a">97%</text>
<text transform="translate(894.54,1625.60) scale(0.9700,1)" font-size="19.5" font-weight="bold" fill="#0a0a0a">91%</text>
<text transform="translate(1052.44,1625.60) scale(0.9700,1)" font-size="19.5" font-weight="bold" fill="#0a0a0a">95%</text>
<text transform="translate(1210.34,1625.60) scale(0.9700,1)" font-size="19.5" font-weight="bold" fill="#0a0a0a">91%</text>
<text transform="translate(202.36,1627.60) scale(0.9850,1)" font-size="19.0" fill="#2e2e2e" stroke="#2e2e2e" stroke-width="0.3">K00012, <tspan font-style="italic">ugd</tspan></text>
<line x1="344.9" y1="1619.45" x2="359.6" y2="1619.45" stroke="#7a7a7a" stroke-width="4.2"/>
<rect x="360.10" y="906.50" width="949.00" height="730.50" fill="none" stroke="#333" stroke-width="2.6"/>
<line x1="439.85" y1="1637.5" x2="439.85" y2="1640" stroke="#d8d8d8" stroke-width="1.6"/>
<text transform="translate(459.79,1648.88) rotate(-45)" font-size="23.2" fill="#333" stroke="#333" stroke-width="0.3" text-anchor="end">Spring</text>
<line x1="597.75" y1="1637.5" x2="597.75" y2="1640" stroke="#d8d8d8" stroke-width="1.6"/>
<text transform="translate(614.30,1650.86) rotate(-45)" font-size="23.2" fill="#333" stroke="#333" stroke-width="0.3" text-anchor="end">Clearwater</text>
<line x1="755.65" y1="1637.5" x2="755.65" y2="1640" stroke="#d8d8d8" stroke-width="1.6"/>
<text transform="translate(736.20,1669.17) rotate(-45)" font-size="23.2" fill="#333" stroke="#333" stroke-width="0.3" text-anchor="middle">Early</text>
<text transform="translate(757.70,1685.29) rotate(-45)" font-size="23.2" fill="#333" stroke="#333" stroke-width="0.3" text-anchor="middle">Summer</text>
<line x1="913.55" y1="1637.5" x2="913.55" y2="1640" stroke="#d8d8d8" stroke-width="1.6"/>
<text transform="translate(893.11,1669.60) rotate(-45)" font-size="23.2" fill="#333" stroke="#333" stroke-width="0.3" text-anchor="middle">Late</text>
<text transform="translate(915.03,1682.61) rotate(-45)" font-size="23.2" fill="#333" stroke="#333" stroke-width="0.3" text-anchor="middle">Summer</text>
<line x1="1071.45" y1="1637.5" x2="1071.45" y2="1640" stroke="#d8d8d8" stroke-width="1.6"/>
<text transform="translate(1083.89,1653.55) rotate(-45)" font-size="23.2" fill="#333" stroke="#333" stroke-width="0.3" text-anchor="end">Fall</text>
<line x1="1229.35" y1="1637.5" x2="1229.35" y2="1640" stroke="#d8d8d8" stroke-width="1.6"/>
<text transform="translate(1244.91,1649.59) rotate(-45)" font-size="23.2" fill="#333" stroke="#333" stroke-width="0.3" text-anchor="end">Ice-on</text>
<defs><linearGradient id="cb" x1="0" y1="0" x2="0" y2="1">
<stop offset="0.00" stop-color="#FF0000"/>
<stop offset="0.10" stop-color="#FF2E00"/>
<stop offset="0.20" stop-color="#FF4300"/>
<stop offset="0.30" stop-color="#FF5300"/>
<stop offset="0.40" stop-color="#FF6200"/>
<stop offset="0.50" stop-color="#FF6E00"/>
<stop offset="0.60" stop-color="#FF7A00"/>
<stop offset="0.70" stop-color="#FF8600"/>
<stop offset="0.80" stop-color="#FF9000"/>
<stop offset="0.90" stop-color="#FF9B00"/>
<stop offset="1.00" stop-color="#FFA500"/>
</linearGradient></defs>
<rect x="1355.3" y="1051.4" width="36" height="180.4" fill="url(#cb)" stroke="#333" stroke-width="2"/>
<line x1="1356.5" y1="1051.4" x2="1390.1" y2="1051.4" stroke="#6b1c16" stroke-width="2.2"/>
<line x1="1356.6" y1="1101.0" x2="1363" y2="1101.0" stroke="#fff" stroke-width="1.5"/>
<line x1="1384" y1="1101.0" x2="1389.8" y2="1101.0" stroke="#fff" stroke-width="1.5"/>
<line x1="1356.6" y1="1151.0" x2="1363" y2="1151.0" stroke="#fff" stroke-width="1.5"/>
<line x1="1384" y1="1151.0" x2="1389.8" y2="1151.0" stroke="#fff" stroke-width="1.5"/>
<line x1="1356.6" y1="1201.0" x2="1363" y2="1201.0" stroke="#fff" stroke-width="1.5"/>
<line x1="1384" y1="1201.0" x2="1389.8" y2="1201.0" stroke="#fff" stroke-width="1.5"/>
<text transform="translate(1393.71,1058.20)" font-size="18.5" fill="#111" stroke="#111" stroke-width="0.25">100%</text>
<text transform="translate(1394.22,1106.70)" font-size="18.5" fill="#111" stroke="#111" stroke-width="0.25">90%</text>
<text transform="translate(1394.31,1156.40)" font-size="18.5" fill="#111" stroke="#111" stroke-width="0.25">80%</text>
<text transform="translate(1394.17,1210.00)" font-size="18.5" fill="#111" stroke="#111" stroke-width="0.25">70%</text>
</svg>
</body></html>
